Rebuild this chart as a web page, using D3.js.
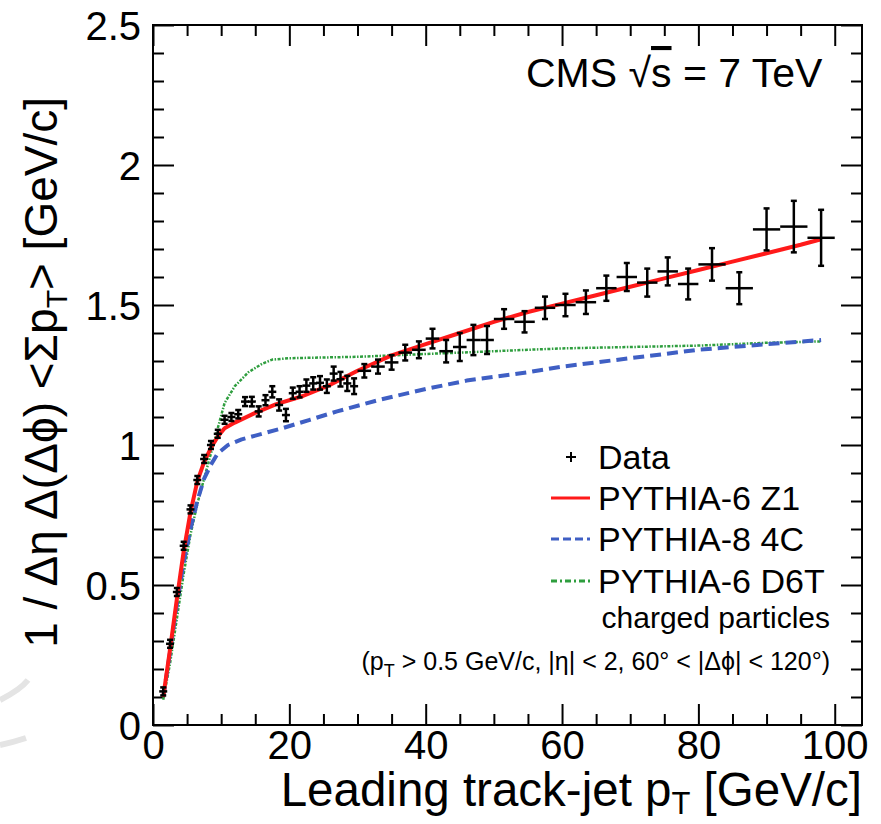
<!DOCTYPE html>
<html>
<head>
<meta charset="utf-8">
<script src="https://cdn.jsdelivr.net/npm/d3@7"></script>
<style>
  body { margin: 0; background: #fff; }
  text { font-family: "Liberation Sans", Arial, sans-serif; fill: #000; }
</style>
</head>
<body>
<div id="chart"></div>
<script>
// measured data points (bin centre, mean, half bin width, stat error)
const dataX  = [1.5, 2.5, 3.5, 4.5, 5.5, 6.5, 7.5, 8.5, 9.5, 10.5, 11.5, 12.5, 13.5, 14.5, 15.5, 16.5, 17.5, 18.5, 19.5,
                20.5, 21.5, 22.5, 23.5, 24.5, 25.5, 26.5, 27.5, 28.5, 29.5,
                31, 33, 35, 37, 39, 41, 43, 45, 47, 49,
                51.5, 54.5, 57.5, 60.5, 63.5, 66.5, 69.5, 72.5, 75.5, 78.5,
                82, 86, 90, 94, 98];
const dataY  = [0.12, 0.29, 0.475, 0.64, 0.77, 0.875, 0.95, 1.0, 1.04, 1.09, 1.10, 1.11, 1.155, 1.155, 1.12, 1.16, 1.19, 1.143, 1.107,
                1.185, 1.19, 1.212, 1.22, 1.222, 1.21, 1.255, 1.235, 1.22, 1.21,
                1.265, 1.28, 1.295, 1.33, 1.34, 1.38, 1.335, 1.35, 1.375, 1.375,
                1.45, 1.44, 1.49, 1.50, 1.51, 1.56, 1.60, 1.58, 1.62, 1.575,
                1.645, 1.56, 1.77, 1.78, 1.74];
const dataEx = [0.5, 0.5, 0.5, 0.5, 0.5, 0.5, 0.5, 0.5, 0.5, 0.5, 0.5, 0.5, 0.5, 0.5, 0.5, 0.5, 0.5, 0.5, 0.5,
                0.5, 0.5, 0.5, 0.5, 0.5, 0.5, 0.5, 0.5, 0.5, 0.5,
                1, 1, 1, 1, 1, 1, 1, 1, 1, 1,
                1.5, 1.5, 1.5, 1.5, 1.5, 1.5, 1.5, 1.5, 1.5, 1.5,
                2, 2, 2, 2, 2];
const dataEy = [0.01, 0.01, 0.01, 0.01, 0.012, 0.012, 0.012, 0.012, 0.013, 0.013, 0.014, 0.015, 0.016, 0.017, 0.018, 0.018, 0.02, 0.02, 0.022,
                0.02, 0.02, 0.022, 0.022, 0.024, 0.024, 0.025, 0.026, 0.027, 0.028,
                0.024, 0.025, 0.026, 0.028, 0.03, 0.035, 0.04, 0.05, 0.054, 0.05,
                0.035, 0.038, 0.04, 0.04, 0.042, 0.045, 0.05, 0.05, 0.05, 0.055,
                0.058, 0.057, 0.075, 0.092, 0.1];

// MC predictions
const z1X  = [1.5, 2.5, 3.5, 4.5, 5.5, 6.5, 7.5, 8.5, 9.5, 10.5, 12, 15, 18, 22, 26, 30, 35, 40, 45, 50, 55, 60, 65, 70, 75, 80, 85, 90, 95, 98];
const z1Y  = [0.10, 0.27, 0.45, 0.62, 0.76, 0.87, 0.94, 0.99, 1.03, 1.06, 1.08, 1.115, 1.145, 1.175, 1.215, 1.265, 1.32, 1.36, 1.40, 1.44, 1.475, 1.505, 1.535, 1.565, 1.595, 1.625, 1.655, 1.685, 1.715, 1.735];
const c4X  = [1.5, 2.5, 3.5, 4.5, 5.5, 6.5, 7.5, 8.5, 9.5, 11, 13, 16, 19, 23, 27, 33, 40, 46, 55, 60, 70, 80, 90, 98];
const c4Y  = [0.10, 0.26, 0.43, 0.58, 0.70, 0.80, 0.88, 0.93, 0.97, 1.00, 1.02, 1.04, 1.06, 1.09, 1.12, 1.16, 1.20, 1.23, 1.26, 1.28, 1.31, 1.34, 1.36, 1.375];
const d6tX = [1.5, 2.5, 3.5, 4.5, 5.5, 6.5, 7.5, 8.5, 9.5, 10.5, 12, 14, 16, 17.5, 20, 30, 40, 50, 60, 70, 80, 90, 98];
const d6tY = [0.09, 0.22, 0.38, 0.54, 0.68, 0.79, 0.88, 0.97, 1.06, 1.15, 1.21, 1.26, 1.29, 1.305, 1.31, 1.315, 1.325, 1.335, 1.345, 1.35, 1.355, 1.365, 1.37];

const xTicks = [0, 20, 40, 60, 80, 100];
const yTicks = [0, 0.5, 1, 1.5, 2, 2.5];
const legendLabels = ["Data", "PYTHIA-6 Z1", "PYTHIA-8 4C", "PYTHIA-6 D6T"];

const W = 881, H = 824;
const frame = {left: 153, right: 862, top: 25, bottom: 725};

const svg = d3.select("#chart").append("svg")
    .attr("width", W).attr("height", H);

const x = d3.scaleLinear().domain([0, 104]).range([frame.left, frame.right]);
const y = d3.scaleLinear().domain([0, 2.5]).range([frame.bottom, frame.top]);

// faint watermark arc in the corner
svg.append("path")
    .attr("d", "M0,700 Q20,690 28,680 M0,745 Q14,742 26,738")
    .attr("fill", "none").attr("stroke", "#e4e4e4").attr("stroke-width", 6);

// axes, ROOT style ticks pointing inward on all four sides
const axisStyle = g => {
    g.select(".domain").remove();
    g.selectAll(".tick line").attr("stroke", "#000").attr("stroke-width", 2);
    g.selectAll(".tick text").style("font-size", "40px").attr("fill", "#000");
};
const minorX = d3.range(0, 104, 5);
const minorY = d3.range(0, 2.51, 0.1).map(v => +v.toFixed(2));
const isMajorX = v => v % 20 === 0;
const isMajorY = v => Math.abs(v * 2 - Math.round(v * 2)) < 1e-6;

svg.append("g").attr("transform", `translate(0,${frame.bottom})`)
    .call(d3.axisTop(x).tickValues(minorX).tickFormat(""))
    .call(g => g.selectAll(".tick line").attr("y2", d => isMajorX(d) ? -21 : -11))
    .call(axisStyle);
svg.append("g").attr("transform", `translate(0,${frame.top})`)
    .call(d3.axisBottom(x).tickValues(minorX).tickFormat(""))
    .call(g => g.selectAll(".tick line").attr("y2", d => isMajorX(d) ? 21 : 11))
    .call(axisStyle);
svg.append("g").attr("transform", `translate(${frame.left},0)`)
    .call(d3.axisRight(y).tickValues(minorY).tickFormat(""))
    .call(g => g.selectAll(".tick line").attr("x2", d => isMajorY(d) ? 21 : 11))
    .call(axisStyle);
svg.append("g").attr("transform", `translate(${frame.right},0)`)
    .call(d3.axisLeft(y).tickValues(minorY).tickFormat(""))
    .call(g => g.selectAll(".tick line").attr("x2", d => isMajorY(d) ? -21 : -11))
    .call(axisStyle);

// tick labels
svg.append("g").attr("transform", `translate(0,${frame.bottom})`)
    .call(d3.axisBottom(x).tickValues(xTicks).tickSize(0).tickPadding(6))
    .call(axisStyle);
svg.append("g").attr("transform", `translate(${frame.left},0)`)
    .call(d3.axisLeft(y).tickValues(yTicks).tickSize(0).tickPadding(12).tickFormat(d => d === 0 ? "0" : d3.format("")(d)))
    .call(axisStyle)
    .call(g => g.selectAll(".tick text").attr("dy", "0.36em"));

svg.append("rect")
    .attr("x", frame.left).attr("y", frame.top)
    .attr("width", frame.right - frame.left).attr("height", frame.bottom - frame.top)
    .attr("fill", "none").attr("stroke", "#000").attr("stroke-width", 2);

// curves
const line = d3.line().x(d => x(d[0])).y(d => y(d[1]));
const series = [
    {xs: d6tX, ys: d6tY, color: "#2e9e3e", width: 2.5, dash: "3,1.5,1.5,1.5"},
    {xs: c4X,  ys: c4Y,  color: "#3f5fc4", width: 4,   dash: "11,6"},
    {xs: z1X,  ys: z1Y,  color: "#ff1a1a", width: 4,   dash: null}
];
series.forEach(s => {
    svg.append("path")
        .datum(d3.zip(s.xs, s.ys))
        .attr("d", line)
        .attr("fill", "none")
        .attr("stroke", s.color)
        .attr("stroke-width", s.width)
        .attr("stroke-dasharray", s.dash)
        .attr("stroke-linejoin", "round");
});

// data points with error bars
const pts = dataX.map((d, i) => ({x: d, y: dataY[i], ex: dataEx[i], ey: dataEy[i]}));
const pg = svg.append("g").attr("stroke", "#000").attr("stroke-width", 2.5);
pts.forEach(p => {
    const cx = x(p.x), cy = y(p.y);
    const hx = Math.max(x(p.x + p.ex) - cx, 4);
    const hy = Math.max(cy - y(p.y + p.ey), 4);
    pg.append("line").attr("x1", cx - hx).attr("x2", cx + hx).attr("y1", cy).attr("y2", cy);
    pg.append("line").attr("x1", cx).attr("x2", cx).attr("y1", cy - hy).attr("y2", cy + hy);
    pg.append("line").attr("x1", cx - 3).attr("x2", cx + 3).attr("y1", cy - hy).attr("y2", cy - hy);
    pg.append("line").attr("x1", cx - 3).attr("x2", cx + 3).attr("y1", cy + hy).attr("y2", cy + hy);
});

// legend
const legY = [457, 498, 539, 581];
const leg = svg.append("g");
leg.append("line").attr("x1", 566).attr("x2", 576).attr("y1", legY[0]).attr("y2", legY[0]).attr("stroke", "#000").attr("stroke-width", 2);
leg.append("line").attr("x1", 571).attr("x2", 571).attr("y1", legY[0] - 5).attr("y2", legY[0] + 5).attr("stroke", "#000").attr("stroke-width", 2);
series.slice().reverse().forEach((s, i) => {
    leg.append("line")
        .attr("x1", 551).attr("x2", 590)
        .attr("y1", legY[i + 1]).attr("y2", legY[i + 1])
        .attr("stroke", s.color).attr("stroke-width", 3)
        .attr("stroke-dasharray", s.dash ? (s.width === 4 ? "8,4" : "6,3,2,3") : null);
});
legendLabels.forEach((t, i) => {
    leg.append("text").attr("x", 598).attr("y", legY[i] + 12)
        .style("font-size", "34px").text(t);
});

svg.append("text").attr("x", 830).attr("y", 628).attr("text-anchor", "end")
    .style("font-size", "30px").text("charged particles");

const cond = svg.append("text").attr("x", 830).attr("y", 670).attr("text-anchor", "end")
    .style("font-size", "25px");
cond.append("tspan").text("(p");
cond.append("tspan").attr("dy", 7).style("font-size", "18px").text("T");
cond.append("tspan").attr("dy", -7).text(" > 0.5 GeV/c, |η| < 2, 60° < |Δϕ| < 120°)");

// CMS label
const cms = svg.append("text").attr("x", 526).attr("y", 87).style("font-size", "41px");
cms.append("tspan").text("CMS √");
cms.append("tspan").style("text-decoration", "overline").text("s");
cms.append("tspan").text(" = 7 TeV");

// axis titles
const xt = svg.append("text").attr("x", 862).attr("y", 806).attr("text-anchor", "end")
    .style("font-size", "47.5px");
xt.append("tspan").text("Leading track-jet p");
xt.append("tspan").attr("dy", 8).style("font-size", "31px").text("T");
xt.append("tspan").attr("dy", -8).text(" [GeV/c]");

const yt = svg.append("text")
    .attr("transform", "translate(57,97) rotate(-90)")
    .attr("text-anchor", "end")
    .style("font-size", "46px");
yt.append("tspan").text("1 / Δη Δ(Δϕ) <Σp");
yt.append("tspan").attr("dy", 10).style("font-size", "30px").text("T");
yt.append("tspan").attr("dy", -10).text("> [GeV/c]");
</script>
</body>
</html>
